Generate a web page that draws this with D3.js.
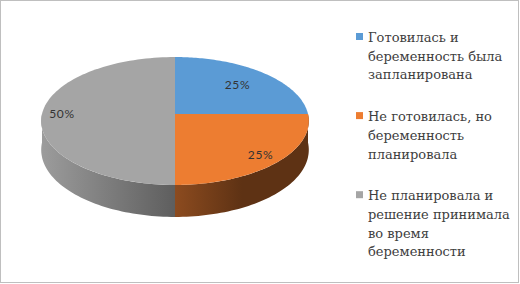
<!DOCTYPE html>
<html>
<head>
<meta charset="utf-8">
<script src="https://cdn.jsdelivr.net/npm/d3@7"></script>
<style>
  body { margin: 0; background: #fff; }
  svg { display: block; }
</style>
</head>
<body>
<div id="chart"></div>
<script>
// data
var categories = [
    ["Готовилась и", "беременность была", "запланирована"],
    ["Не готовилась, но", "беременность", "планировала"],
    ["Не планировала и", "решение принимала", "во время", "беременности"]
];
var values = [25, 25, 50];
var labels = ["25%", "25%", "50%"];

var colors = ["#5b9bd5", "#ed7d31", "#a5a5a5"];
var sideColors = [
    ["#4a7fb0", "#3a6590"],
    ["#8c4b1f", "#5e3214"],
    ["#5e5e5e", "#9c9c9c"]
];
var labelR = [0.7, 0.85, 0.85];

var width = 520, height = 284;

var svg = d3.select("#chart").append("svg")
    .attr("width", width)
    .attr("height", height);

svg.append("rect")
    .attr("x", 0.5).attr("y", 0.5)
    .attr("width", 518).attr("height", 282)
    .attr("fill", "#fff")
    .attr("stroke", "#bfbfbf");

// perspective-ish projection of the pie disc
var cx = 175, cy = 114, R = 133, K = 63.2, P = -0.109, D = 28.5;

function project(a, f, h) {
    var u = Math.sin(a) * f, v = -Math.cos(a) * f;
    var s = 1 / (1 + P * v);
    return [cx + R * u * s, cy + K * v * s + h * D * s];
}

var pie = d3.pie().sort(null).value(function(d) { return d; });
var arcs = pie(values);

var line = d3.line();
var defs = svg.append("defs");

// side walls (only the front half is visible)
arcs.forEach(function(d, i) {
    var a0 = Math.max(d.startAngle, Math.PI / 2);
    var a1 = Math.min(d.endAngle, Math.PI * 1.5);
    if (a1 <= a0) return;
    var pts = [], n = 60, j;
    for (j = 0; j <= n; j++) pts.push(project(a0 + (a1 - a0) * j / n, 1, 0));
    for (j = n; j >= 0; j--) pts.push(project(a0 + (a1 - a0) * j / n, 1, 1));

    var xs = pts.map(function(p) { return p[0]; });
    var x0 = d3.min(xs), x1 = d3.max(xs);
    var g = defs.append("linearGradient")
        .attr("id", "side" + i)
        .attr("gradientUnits", "userSpaceOnUse")
        .attr("x1", x0).attr("x2", i == 1 ? x0 + (x1 - x0) * 0.5 : x1)
        .attr("y1", 0).attr("y2", 0);
    if (i == 2) {
        g.attr("x1", x1).attr("x2", x0);
    }
    g.append("stop").attr("offset", "0%").attr("stop-color", sideColors[i][0]);
    g.append("stop").attr("offset", "100%").attr("stop-color", sideColors[i][1]);

    svg.append("path")
        .attr("d", line(pts) + "Z")
        .attr("fill", "url(#side" + i + ")");
});

// top faces
arcs.forEach(function(d, i) {
    var pts = [[cx, cy]], n = 90;
    for (var j = 0; j <= n; j++) {
        pts.push(project(d.startAngle + (d.endAngle - d.startAngle) * j / n, 1, 0));
    }
    svg.append("path")
        .attr("d", line(pts) + "Z")
        .attr("fill", colors[i]);
});

// data labels
svg.append("g")
    .selectAll("text")
    .data(arcs)
    .enter().append("text")
    .attr("x", function(d, i) { return project((d.startAngle + d.endAngle) / 2, labelR[i], 0)[0]; })
    .attr("y", function(d, i) { return project((d.startAngle + d.endAngle) / 2, labelR[i], 0)[1]; })
    .attr("dy", "0.35em")
    .attr("text-anchor", "middle")
    .attr("font-family", "Lato")
    .attr("font-size", 12)
    .attr("letter-spacing", 0.6)
    .attr("fill", "#333")
    .text(function(d, i) { return labels[i]; });

// legend
var lh = 18.7, gap = 23, y = 42;
var legend = svg.append("g");

categories.forEach(function(lines, i) {
    legend.append("rect")
        .attr("x", 356)
        .attr("y", y - 9)
        .attr("width", 7)
        .attr("height", 7)
        .attr("fill", colors[i]);
    legend.selectAll("text.l" + i)
        .data(lines)
        .enter().append("text")
        .attr("class", "l" + i)
        .attr("x", 368)
        .attr("y", function(d, j) { return y + j * lh; })
        .attr("font-family", "DejaVu Serif")
        .attr("font-size", 13)
        .attr("fill", "#404040")
        .text(function(d) { return d; });
    y += lines.length * lh + gap;
});
</script>
</body>
</html>
